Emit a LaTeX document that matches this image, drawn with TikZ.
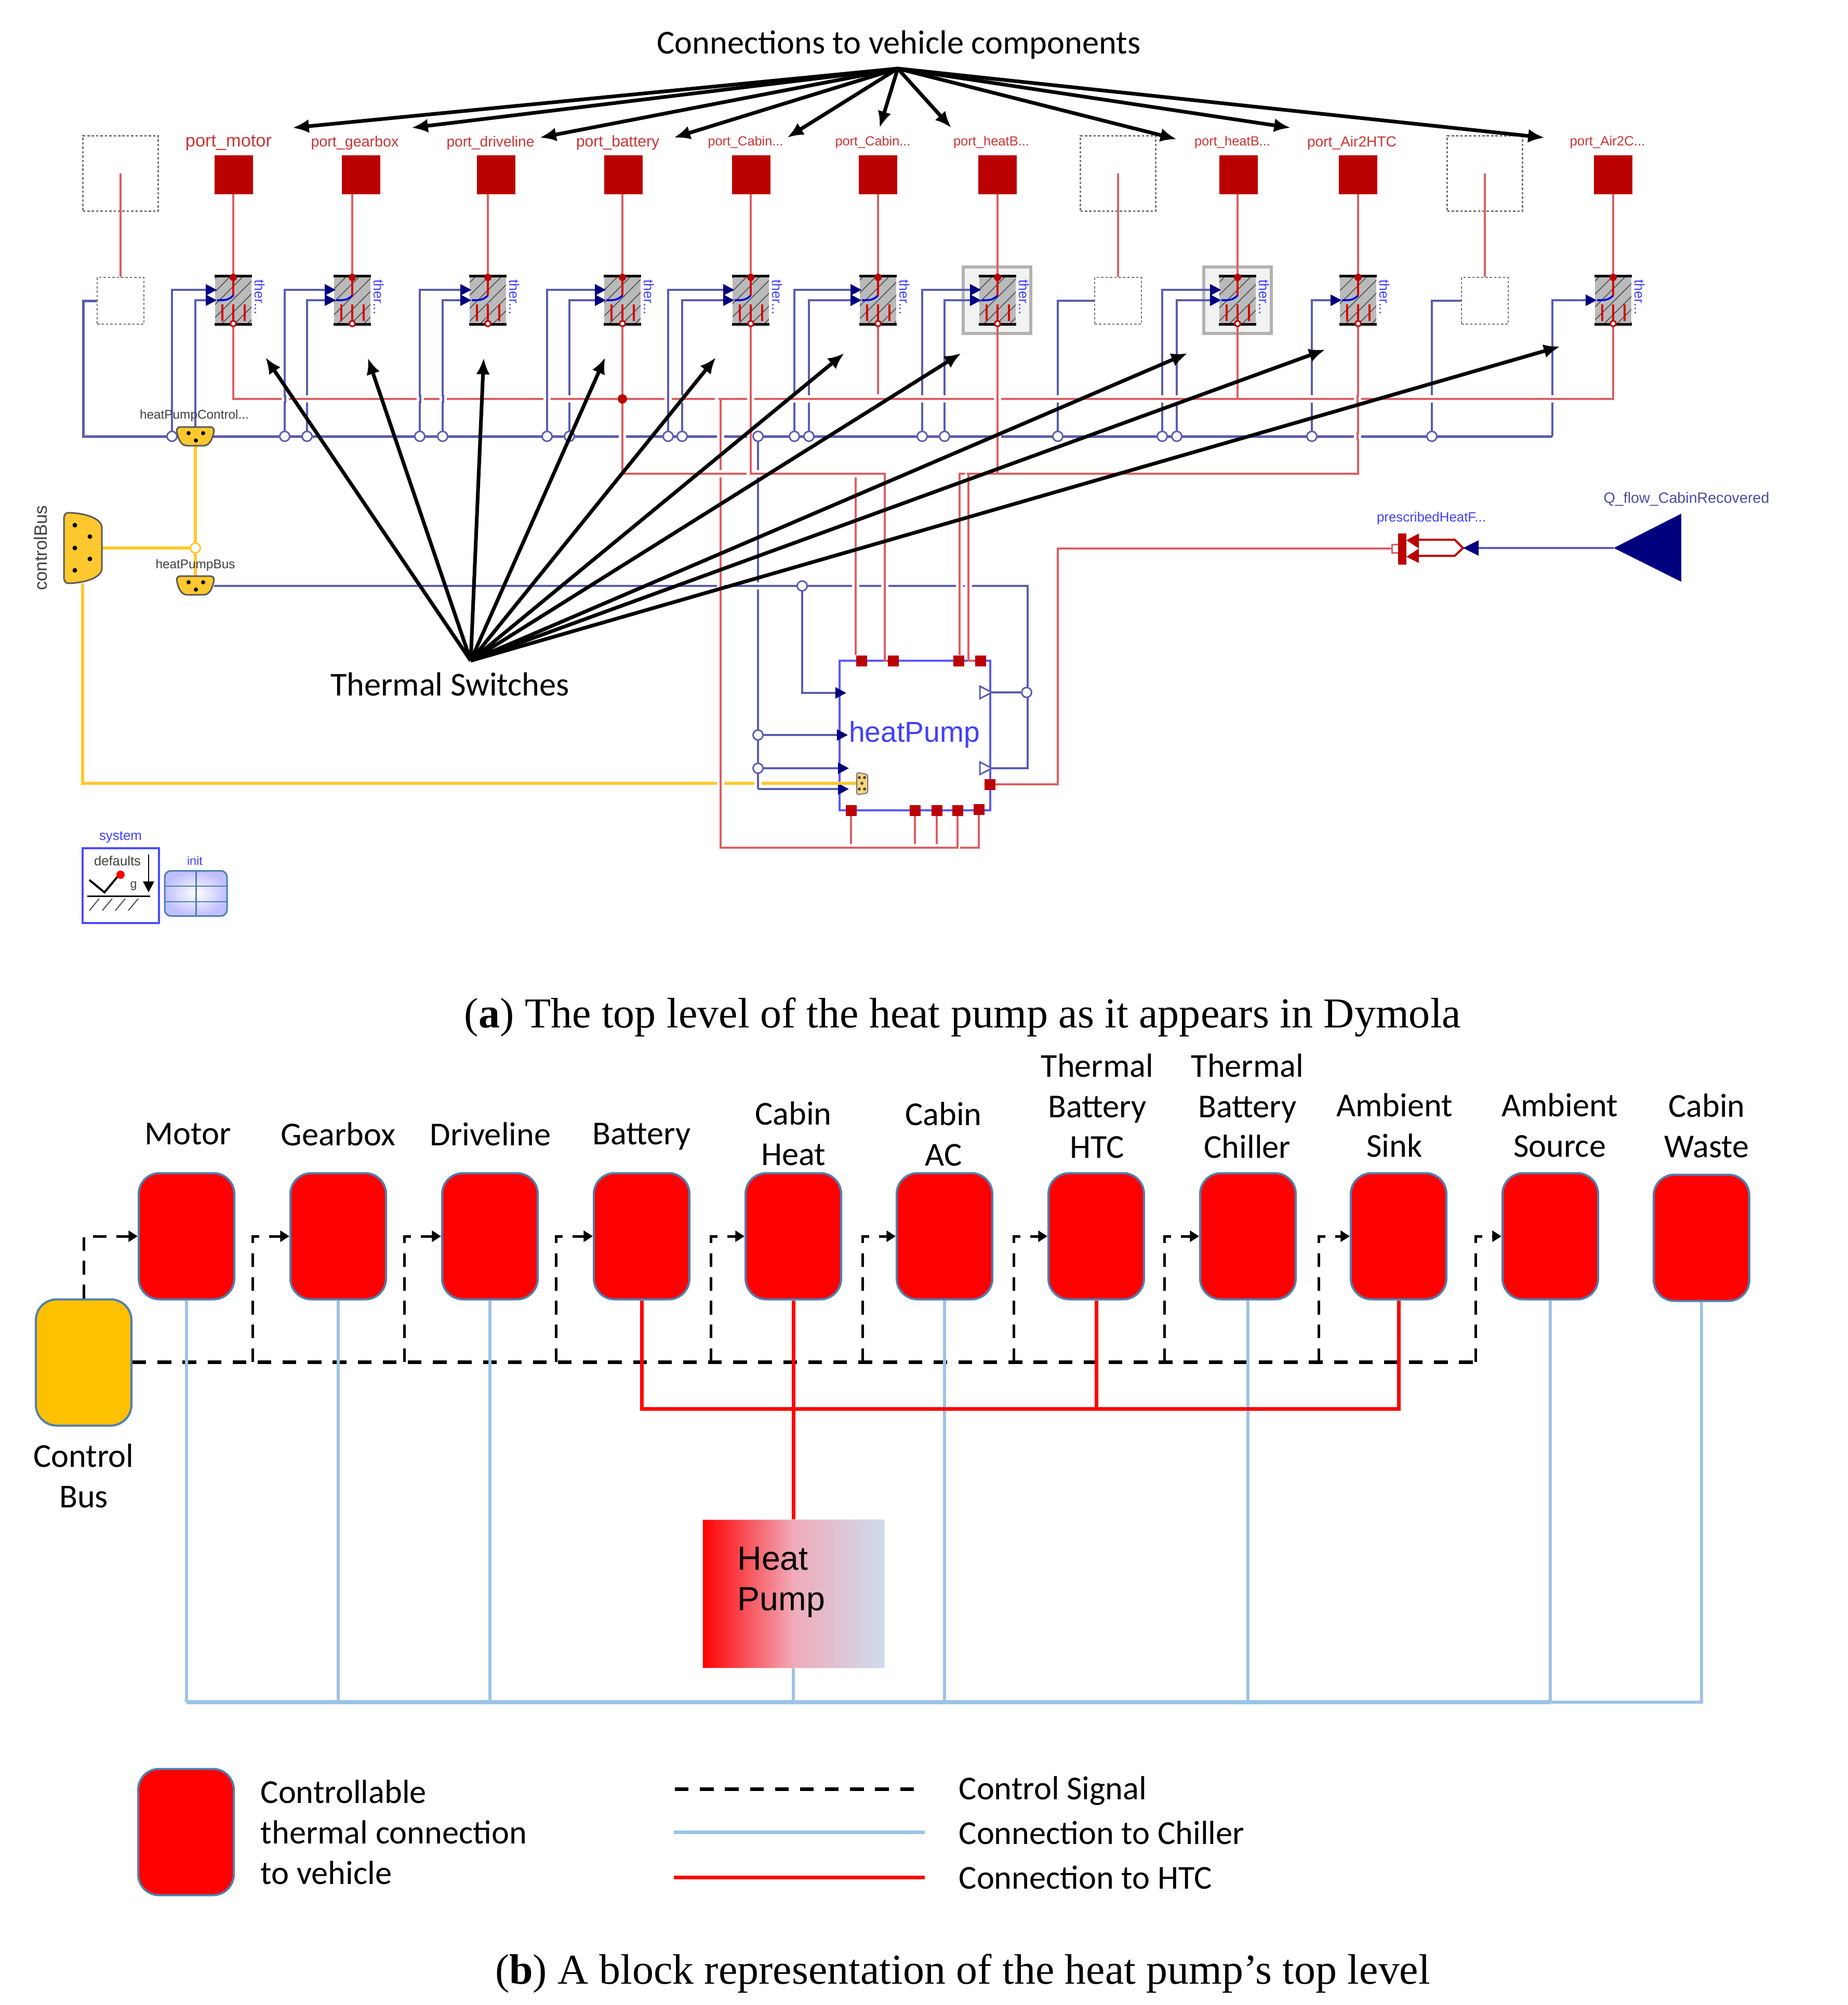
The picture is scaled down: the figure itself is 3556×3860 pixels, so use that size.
\documentclass[tikz,border=0pt]{standalone}
\usepackage{fontspec}
\usepackage{graphicx}
\setmainfont{Carlito}
\newfontfamily\arl{Liberation Sans}
\newfontfamily\capf{Liberation Serif}
\usetikzlibrary{arrows.meta,calc,patterns.meta,shapes.geometric}
\newdimen\px \px=0.01cm

\definecolor{wireb}{HTML}{5A5DAE}
\definecolor{wirer}{HTML}{DB5F64}
\definecolor{wirey}{HTML}{FFC82E}
\definecolor{portr}{HTML}{BB0000}
\definecolor{navy}{HTML}{00007F}
\definecolor{textb}{HTML}{4040FF}
\definecolor{textr}{HTML}{CC3333}
\definecolor{chill}{HTML}{9DC3E6}
\definecolor{edge}{HTML}{4F7FAF}

% gaps where two wires cross: first the horizontal is broken, then the vertical
\newcommand{\hcut}[3]{\draw[white,line width=9\px] (#1-7,#2)--(#1+7,#2); \draw[#3] (#1,#2-8)--(#1,#2+8);}
\newcommand{\vcut}[3]{\draw[white,line width=9\px] (#1,#2-7)--(#1,#2+7); \draw[#3] (#1-8,#2)--(#1+8,#2);}
% small bus connector
\newcommand{\minibus}[2]{%
  \draw[busc,shift={(#1,#2)}] (-28,-18) -- (28,-18) .. controls (36,-18) and (37,-12) .. (35,-6)
    .. controls (32,8) and (26,18) .. (16,18) -- (-16,18) .. controls (-26,18) and (-32,8) .. (-35,-6)
    .. controls (-37,-12) and (-36,-18) .. (-28,-18) -- cycle;
  \fill[shift={(#1,#2)}] (-13,-6) circle (4) (15,-6) circle (4) (1,8) circle (4);}

\begin{document}
\begin{tikzpicture}[x=0.01cm,y=-0.01cm,
    bw/.style={draw=wireb,line width=4.2\px},
    rw/.style={draw=wirer,line width=4.2\px},
    yw/.style={draw=wirey,line width=5.5\px},
    tip/.style={-{Triangle[length=6pt,width=6pt,color=navy]}},
    big/.style={line width=2pt,-{Latex[length=9pt,width=7.5pt]}},
    port/.style={fill=portr,inner sep=0pt,minimum width=74\px,minimum height=75\px},
    hport/.style={fill=portr,inner sep=0pt,minimum size=21\px},
    switch/.style={inner sep=0pt,minimum width=70\px,minimum height=91\px,
      preaction={fill=black!27},pattern={Lines[angle=45,distance=5pt,line width=.45pt]},pattern color=black!70},
    dotbox/.style={draw=black!55,line width=2.5\px,dash pattern=on 1.3pt off 1.1pt,inner sep=0pt},
    jun/.style={circle,draw=wireb,fill=white,line width=3\px,inner sep=0pt,minimum width=19\px},
    busc/.style={fill=wirey,draw=black!65,line width=3\px},
    plab/.style={text=textr,font=\arl,inner sep=0pt},
    blab/.style={text=textb,font=\arl,inner sep=0pt},
    glab/.style={text=black!75,font=\arl,inner sep=0pt},
    lbl/.style={font=\fontsize{18.3pt}{22.2pt}\selectfont,align=center,inner sep=0pt},
    captxt/.style={font=\capf\fontsize{24pt}{28pt}\selectfont,inner sep=0pt},
    block/.style={draw=edge,line width=4\px,fill=red,rounded corners=40\px,minimum width=184\px,minimum height=243\px,inner sep=0pt},
    ctl/.style={draw=black,line width=7\px,dash pattern=on 7.5pt off 6.2pt},
    ctlv/.style={draw=black,line width=5\px,dash pattern=on 7.5pt off 5.5pt},
    atip/.style={-{Triangle[length=5pt,width=6pt]}},
    chw/.style={draw=chill,line width=6\px},
    htc/.style={draw=red,line width=7\px}]
\useasboundingbox (0,0) rectangle (3556,3860);

%%% (a) the Dymola view
\node[lbl] (title) at (1730,86) {Connections to vehicle components};

% highlighted switches
\foreach \i/\x in {7/1919,8/2382}
  \node[draw=black!30,fill=black!5,line width=6\px,minimum width=130\px,minimum height=128\px,inner sep=0pt] (hl\i) at (\x,578) {};

% ports and switches: index, wire x, square x
\foreach \i/\l/\q in {1/449/450,2/678/695,3/939/955,4/1198/1200,5/1445/1446,6/1690/1690,7/1920/1920,8/2382/2384,9/2614/2614,10/3105/3105} {
  \node[port] (p\i) at (\q,336) {};
  \node[switch] (s\i) at (\l,578) {};
  \node[blab,rotate=-90] (th\i) at (\l+51,572) {\resizebox{67\px}{!}{ther...}};
}
\node[plab] (n1) at (440,275) {\resizebox{166\px}{!}{port\_motor}};
\node[plab] (n2) at (683,275) {\resizebox{169\px}{!}{port\_gearbox}};
\node[plab] (n3) at (944,275) {\resizebox{169\px}{!}{port\_driveline}};
\node[plab] (n4) at (1189,275) {\resizebox{160\px}{!}{port\_battery}};
\node[plab] (n5) at (1435,274) {\resizebox{145\px}{!}{port\_Cabin...}};
\node[plab] (n6) at (1680,274) {\resizebox{145\px}{!}{port\_Cabin...}};
\node[plab] (n7) at (1908,274) {\resizebox{146\px}{!}{port\_heatB...}};
\node[plab] (n8) at (2372,274) {\resizebox{146\px}{!}{port\_heatB...}};
\node[plab] (n9) at (2602,275) {\resizebox{172\px}{!}{port\_Air2HTC}};
\node[plab] (n10) at (3094,274) {\resizebox{145\px}{!}{port\_Air2C...}};

% conditional (dotted) components
\foreach \i/\x in {1/232,2/2152,3/2858} {
  \node[dotbox,minimum width=145\px,minimum height=145\px] (u\i) at (\x,334) {};
  \node[dotbox,minimum width=90\px,minimum height=90\px] (d\i) at (\x,579) {};
  \coordinate (uc\i) at (\x,334);
  \draw[rw] (uc\i) -- (d\i.north);
}

% heat pump block
\node[draw=blue!65,line width=3.5\px,fill=white,minimum width=290\px,minimum height=288\px,inner sep=0pt] (hp) at (1761,1416) {};
\foreach \n/\x/\y in {t1/1658/1272,t2/1719/1272,t3/1845/1272,t4/1887/1272,b1/1638/1560,b2/1761/1560,b3/1803/1560,b4/1843/1560,b5/1884/1558,r/1905/1510}
  \node[hport] (h\n) at (\x,\y) {};

% named wire corners
\coordinate (blL) at (160,840);
\coordinate (blR) at (2988,840);
\coordinate (rbR) at (3105,768);
\coordinate (lowa) at (1437,912);
\coordinate (lowb) at (1703,912);
\coordinate (lowc) at (1847,912);
\coordinate (lowd) at (1864,912);
\coordinate (lowe) at (1647,919);
\coordinate (rtap) at (1387,768);
\coordinate (rtapb) at (1387,1632);
\coordinate (rtapc) at (1848,1632);
\coordinate (hbR) at (1978,1128);
\coordinate (hbJ) at (1544,1128);
\coordinate (hbL) at (412,1128);
\coordinate (hbK) at (1976,1333);
\coordinate (vJa) at (1459,1415);
\coordinate (vJb) at (1459,1479);
\coordinate (vEnd) at (1459,1519);
\coordinate (ctlTop) at (376,858);
\coordinate (ctlJ) at (376,1055);
\coordinate (ctlBot) at (376,1109);
\coordinate (cbR) at (196,1055);
\coordinate (cbB) at (159,1123);
\coordinate (ctlEnd) at (1650,1508);
\coordinate (qIn) at (2679,1056);
\coordinate (hrUp) at (2036,1056);
\foreach \x in {331,548,591,808,852,1053,1096,1286,1313,1459,1529,1557,1775,1818,2036,2237,2265,2525,2756}
  \coordinate (j\x) at (\x,840);

% red wires
\foreach \i in {1,...,10}
  \draw[rw] (s\i.north) -- (s\i.north |- p\i.south);
\draw[rw] (s1.south) |- (rbR) -- (s10.south);
\draw[rw] (s8.south) -- (s8.south |- rbR);
\draw[rw] (s6.south) -- ++(0,135);
\draw[rw] (s4.south) |- (lowa);
\draw[rw] (s5.south) |- (lowb) |- (ht2.west);
\draw[rw] (s9.south) |- (lowc) -- (lowc |- ht3.north);
\draw[rw] (s7.south) |- (lowd) |- (ht4.west);
\draw[rw] (lowe) -- (lowe |- ht1.north);
\draw[rw] (rtap) -- (rtapb) -| (hb4.south);
\draw[rw] (rtapc) -| (hb5.south);
\foreach \n in {b1,b2,b3}
  \draw[rw] (h\n.south) -- (h\n.south |- 0,1625);
\draw[rw] (hr.east) -| (hrUp) -- (qIn);

% blue wires
\draw[bw,line width=5\px] (d1.west) -| (blL) -- (blR);
\draw[bw,tip] (blR) |- ($(s10.west |- 0,578)+(4,0)$);
\draw[bw,tip] (376,840) |- ($(s1.west |- 0,578)+(4,0)$);
\foreach \j/\s/\y in {331/1/558,548/2/558,591/2/578,808/3/558,852/3/578,1053/4/558,1096/4/578,1286/5/558,1313/5/578,1529/6/558,1557/6/578,1775/7/558,1818/7/578,2237/8/558,2265/8/578,2525/9/578}
  \draw[bw,tip] (j\j) |- ($(s\s.west |- 0,\y)+(4,0)$);
\draw[bw] (j2036) |- (d2.west);
\draw[bw] (j2756) |- (d3.west);
\draw[bw] (hbL) -- (hbR) |- (1909,1479);
\draw[bw] (hbK) -- (1909,1333);
\draw[bw,tip] (hbJ) |- (1629,1334);
\draw[bw] (j1459) -- (vEnd);
\draw[bw,tip] (vEnd) -- (1634,1519);
\draw[bw,tip] (vJa) -- (1632,1415);
\draw[bw,tip] (vJb) -- (1634,1479);

% yellow bus wires
\draw[yw] (ctlTop) -- (ctlBot);
\draw[yw] (cbR) -- (ctlJ);
\draw[yw] (cbB) |- (ctlEnd);

% line jumps
\foreach \x in {549,809,853,1053,1286} { \hcut{\x}{768}{bw} }
\foreach \x in {1445,1920,2613} { \hcut{\x}{768}{rw} }
\foreach \x in {593,1098,1315,1530,1559,1775,1819,2036,2239,2266,2527,2757,2986} { \vcut{\x}{768}{rw} }
\foreach \x in {1198,1387,1445,1920,2613} { \hcut{\x}{840}{rw} }
\foreach \x in {1387,1647,1703,1847,1864} { \hcut{\x}{1128}{rw} }
\vcut{1459}{1128}{bw}
\vcut{1459}{912}{rw}
\vcut{1387}{912}{rw}
\draw[white,line width=9\px] (1376,768) -- (1383,768);
\draw[white,line width=9\px] (1857,912) -- (1861,912);
\hcut{1387}{1508}{rw}
\hcut{1459}{1508}{bw}

% switch insides
\foreach \i/\l in {1/449,2/678,3/939,4/1198,5/1445,6/1690,7/1920,8/2382,9/2614,10/3105} {
  \draw[black,line width=5\px] (s\i.north west) -- (s\i.north east);
  \draw[black,line width=5\px] (s\i.south west) -- (s\i.south east);
  \draw[red!85!black,line width=3.6\px] (\l,534) -- (\l,569);
  \draw[red!85!black,line width=3.6\px] (\l-21,586) -- (\l-21,618) (\l,586) -- (\l,618) (\l+22,586) -- (\l+22,618);
  \draw[blue!85!black,line width=3.6\px] (\l-31,578) .. controls (\l-15,578) and (\l-10,578) .. (\l,569);
  \fill[portr] (\l,534) circle (7);
  \draw[portr,fill=white,line width=3\px] (\l,623) circle (5.5);
}

% bus junctions
\foreach \x in {331,548,591,808,852,1053,1096,1286,1313,1459,1529,1557,1775,1818,2036,2237,2265,2525,2756}
  \node[jun] (jn\x) at (j\x) {};
\foreach \n/\c in {h1/hbJ,h2/hbK,h3/vJa,h4/vJb}
  \node[jun] (jn\n) at (\c) {};
\node[circle,draw=wirey,fill=white,line width=3\px,inner sep=0pt,minimum size=19\px] (jy) at (ctlJ) {};
\fill[portr] (1198,768) circle (9);

% open outputs on the heat pump
\draw[draw=wireb,line width=3\px,fill=white] (1886,1321) -- (1909,1333) -- (1886,1345) -- cycle;
\draw[draw=wireb,line width=3\px,fill=white] (1886,1467) -- (1909,1479) -- (1886,1491) -- cycle;
\node[blab] (hptext) at (1760,1414) {\resizebox{252\px}{!}{heatPump}};
\draw[fill=yellow!40!orange!50,draw=black!55,line width=2\px,rounded corners=4\px] (1649,1487) -- (1670,1491) -- (1670,1527) -- (1649,1530) -- cycle;
\fill[black!70] (1654,1497) circle (3) (1664,1497) circle (3) (1659,1508) circle (3) (1654,1519) circle (3) (1664,1519) circle (3);

% buses
\draw[busc] (132,987) .. controls (165,988) and (195,998) .. (196,1015) -- (196,1095)
  .. controls (195,1112) and (165,1122) .. (132,1123) .. controls (126,1123) and (123,1118) .. (123,1112)
  -- (123,998) .. controls (123,992) and (126,987) .. (132,987) -- cycle;
\fill (144,1011) circle (4.5) (144,1055) circle (4.5) (144,1098) circle (4.5) (173,1033) circle (4.5) (173,1076) circle (4.5);
\node[glab,rotate=90] (cbt) at (78,1055) {\resizebox{163\px}{!}{controlBus}};
\minibus{376}{840}
\minibus{376}{1127}
\node[glab] (hpc) at (374,800) {\resizebox{210\px}{!}{heatPumpControl...}};
\node[glab] (hpb) at (376,1088) {\resizebox{153\px}{!}{heatPumpBus}};

% prescribed heat flow and input
\draw[draw=wirer,line width=3\px,fill=white] (2679,1048) rectangle (2692,1064);
\draw[portr,line width=4\px] (2731,1039) -- (2800,1039) -- (2816,1055) -- (2800,1070) -- (2731,1070);
\fill[portr] (2691,1027) rectangle (2707,1087);
\fill[portr] (2731,1027) -- (2707,1040) -- (2731,1056) -- cycle (2731,1056) -- (2707,1072) -- (2731,1084) -- cycle;
\fill[navy] (2816,1055) -- (2846,1040) -- (2846,1070) -- cycle;
\fill[navy] (3106,1055) -- (3236,989) -- (3236,1120) -- cycle;
\coordinate (qa) at (2846,1055);
\coordinate (qb) at (3106,1055);
\draw[bw,line width=4.5\px] (qa) -- (qb);
\node[blab] (phf) at (2755,998) {\resizebox{210\px}{!}{prescribedHeatF...}};
\node[text=navy!70,font=\arl,inner sep=0pt] (qfl) at (3246,961) {\resizebox{319\px}{!}{Q\_flow\_CabinRecovered}};

% system and init
\node[draw=blue!70,line width=4\px,minimum width=147\px,minimum height=144\px,inner sep=0pt] (sys) at (232,1705) {};
\node[blab] (syst) at (232,1612) {\resizebox{82\px}{!}{system}};
\node[glab] (deft) at (226,1657) {\resizebox{90\px}{!}{defaults}};
\draw[line width=4\px] (172,1694) -- (201,1718) -- (226,1688);
\fill[red] (232,1684) circle (8);
\node[glab] (gt) at (257,1706) {\resizebox{13\px}{!}{g}};
\draw[line width=2.5\px,-{Triangle[length=6pt,width=6pt]}] (286,1645) -- (286,1718);
\draw[line width=3\px] (168,1725) -- (289,1725);
\foreach \x in {191,216,241,266}
  \draw[black!70,line width=2\px] (\x,1730) -- (\x-19,1753);
\node[draw=edge,line width=3\px,rounded corners=12\px,inner color=white,outer color=blue!25,minimum width=120\px,minimum height=87\px,inner sep=0pt] (ini) at (377,1720) {};
\draw[edge,line width=3\px] (ini.north) -- (ini.south);
\draw[edge,line width=2.5\px] (ini.west |- 0,1706) -- (ini.east |- 0,1706) (ini.west |- 0,1736) -- (ini.east |- 0,1736);
\node[blab] (inil) at (375,1657) {\resizebox{30\px}{!}{init}};

% annotation arrows
\coordinate (top) at (1728,132);
\coordinate (sw) at (906,1272);
\foreach \n/\x/\y in {1/563/246,2/792/246,3/1039/265,4/1297/265,5/1515/265,6/1693/246,7/1831/246,8/2265/268,9/2484/246,10/2973/265} {
  \coordinate (at\n) at (\x,\y);
  \draw[big] (top) -- (at\n);
}
\foreach \n/\x/\y in {1/511/688,2/708/689,3/931/689,4/1165/688,5/1378/688,6/1625/680,7/1850/680,8/2286/680,9/2551/673,10/3003/667} {
  \coordinate (bt\n) at (\x,\y);
  \draw[big] (sw) -- (bt\n);
}
\node[lbl] (tsw) at (866,1317) {Thermal Switches};
\node[captxt] (capa) at (1853,1958) {\resizebox{1918\px}{!}{(\textbf{a}) The top level of the heat pump as it appears in Dymola}};

%%% (b) block representation
\foreach \i/\x in {1/359,2/651,3/943,4/1235,5/1527,6/1818,7/2110,8/2402,9/2692,10/2984}
  \node[block] (b\i) at (\x,2380) {};
\node[block] (b11) at (3275,2383) {};
\node[block,fill={rgb,255:red,255;green,192;blue,0}] (cb) at (161,2623) {};
\node[draw=black!10,line width=1\px,left color=red,right color={rgb,255:red,207;green,220;blue,238},middle color={rgb,255:red,240;green,170;blue,185},minimum width=350\px,minimum height=286\px,inner sep=0pt] (hpump) at (1527,3068) {};
\node[lbl,font=\arl\fontsize{18.3pt}{22.2pt}\selectfont,align=left,anchor=west] (hpl) at (1419,3046) {Heat\\Pump};

\coordinate (ctlM) at (253,2622);
\coordinate (ctlE) at (2840,2622);
\coordinate (chL) at (359,3277);
\coordinate (htL) at (1235,2712);
\coordinate (htR) at (2692,2712);
\draw[ctl] (cb.east |- ctlM) -- (ctlE);
\draw[ctlv,atip] (cb.north) |- (b1.west);
\foreach \x/\i in {486/2,778/3,1070/4,1368/5,1660/6,1951/7,2241/8,2538/9,2840/10}
  \draw[ctlv,atip] (\x,2622) |- (b\i.west);
\foreach \i in {1,2,3,6,8,10}
  \draw[chw] (b\i.south) -- (b\i.south |- chL);
\draw[chw] (b11.south) |- (chL);
\draw[chw,line width=8\px] (chL) -- (b10.south |- chL);
\draw[chw] (hpump.south) -- (hpump.south |- chL);
\draw[htc] (b4.south) |- (htR) -- (b9.south);
\draw[htc] (b5.south) -- (b5.south |- htL);
\draw[htc] (b7.south) -- (b7.south |- htL);
\draw[htc] (b5.south |- htL) -- (b5.south |- hpump.north);

\node[lbl] (l1) at (362,2183) {Motor};
\node[lbl] (l2) at (651,2183) {Gearbox};
\node[lbl] (l3) at (944,2183) {Driveline};
\node[lbl] (l4) at (1235,2188) {Battery};
\node[lbl] (l5) at (1527,2182) {Cabin\\Heat};
\node[lbl] (l6) at (1816,2183) {Cabin\\AC};
\node[lbl] (l7) at (2112,2129) {Thermal\\Battery\\HTC};
\node[lbl] (l8) at (2401,2129) {Thermal\\Battery\\Chiller};
\node[lbl] (l9) at (2684,2166) {Ambient\\Sink};
\node[lbl] (l10) at (3002,2166) {Ambient\\Source};
\node[lbl] (l11) at (3285,2167) {Cabin\\Waste};
\node[lbl] (lcb) at (161,2841) {Control\\Bus};

% legend
\node[block] (lgb) at (358,3527) {};
\node[lbl,align=left,anchor=west] (lg0) at (501,3527) {Controllable\\thermal connection\\to vehicle};
\coordinate (la1) at (1299,3444);
\coordinate (la2) at (1768,3444);
\coordinate (lb1) at (1297,3527);
\coordinate (lb2) at (1780,3527);
\coordinate (lc1) at (1297,3614);
\coordinate (lc2) at (1780,3614);
\draw[ctl] (la1) -- (la2);
\draw[chw,line width=7\px] (lb1) -- (lb2);
\draw[htc] (lc1) -- (lc2);
\node[lbl,anchor=west] (lg1) at (1845,3448) {Control Signal};
\node[lbl,anchor=west] (lg2) at (1845,3528) {Connection to Chiller};
\node[lbl,anchor=west] (lg3) at (1845,3614) {Connection to HTC};
\node[captxt] (capb) at (1853,3799) {\resizebox{1800\px}{!}{(\textbf{b}) A block representation of the heat pump’s top level}};
\end{tikzpicture}
\end{document}
